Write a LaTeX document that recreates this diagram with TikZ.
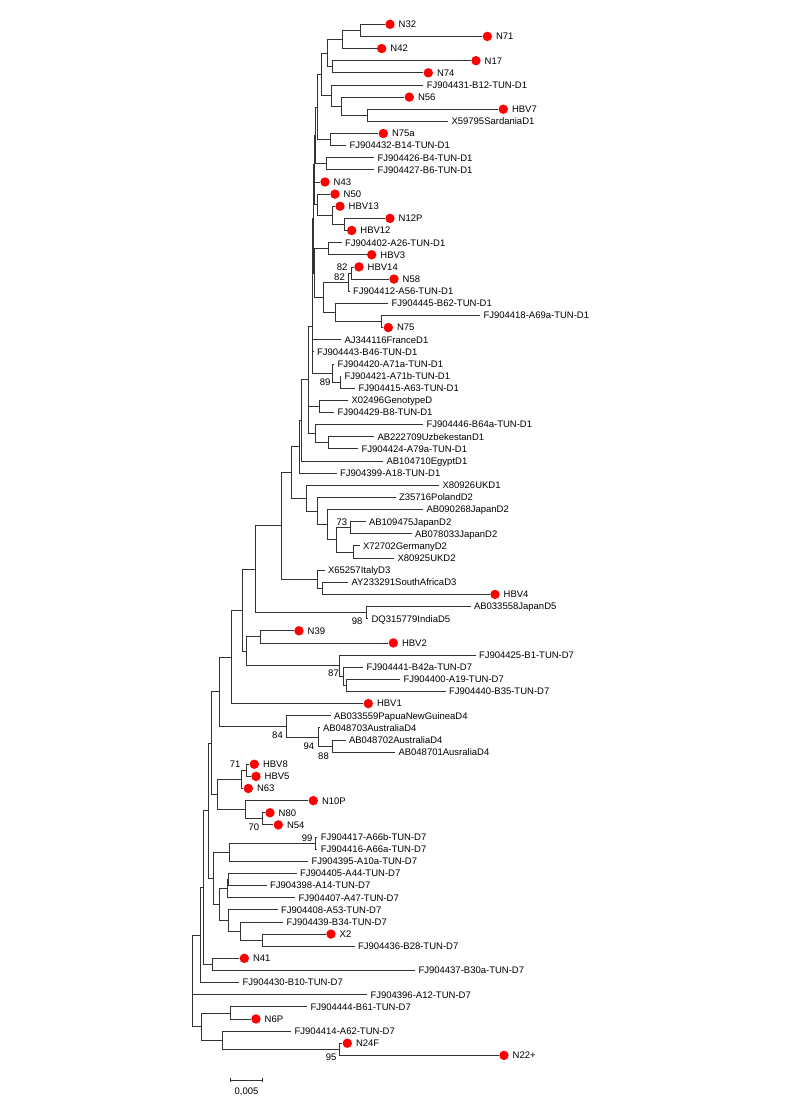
\documentclass[tikz,border=0pt]{standalone}
\usepackage{fontspec}
\setmainfont{Liberation Sans}
\usetikzlibrary{calc}
\tikzset{
  edge/.style={draw=black!80,line width=0.8pt},
  lab/.style={anchor=west,inner sep=0pt,font=\fontsize{9.5}{11}\selectfont,text height=6.8pt,text depth=0pt},
  bs/.style={lab,anchor=east},
  rdot/.style={circle,fill=red,inner sep=0pt,minimum size=9.4pt}
}
\newcommand\lp[3]{\coordinate (L#1) at (#2,{24.3+(#1-1)*12.13});\node[lab] (T#1) at ([xshift=3.3pt]L#1) {#3};}
\newcommand\ld[3]{\coordinate (L#1) at ({#2-5},{24.3+(#1-1)*12.13});\node[rdot] (D#1) at (#2,{24.3+(#1-1)*12.13}) {};\node[lab] (T#1) at ([xshift=8.5pt]D#1.center) {#3};}
\newcommand\mk[4]{\path let \p1=(#3), \p2=(#4) in (#2pt,{(\y1+\y2)/2}) coordinate (#1);}
\newcommand\ed[2]{\foreach \c in {#2}{\draw[edge] (#1) |- (\c);}}
\begin{document}
\begin{tikzpicture}[x=1pt,y=-1pt]
\path[use as bounding box,fill=white] (0,0) rectangle (785,1110);
% leaves
\ld{1}{390}{N32}
\ld{2}{487.3}{N71}
\ld{3}{381.7}{N42}
\ld{4}{476}{N17}
\ld{5}{428.3}{N74}
\lp{6}{423.3}{FJ904431-B12-TUN-D1}
\ld{7}{409.3}{N56}
\ld{8}{503.3}{HBV7}
\lp{9}{448}{X59795SardaniaD1}
\ld{10}{383.3}{N75a}
\lp{11}{346}{FJ904432-B14-TUN-D1}
\lp{12}{374}{FJ904426-B4-TUN-D1}
\lp{13}{374}{FJ904427-B6-TUN-D1}
\ld{14}{325}{N43}
\ld{15}{335}{N50}
\ld{16}{340}{HBV13}
\ld{17}{390}{N12P}
\ld{18}{351.7}{HBV12}
\lp{19}{341.5}{FJ904402-A26-TUN-D1}
\ld{20}{371.7}{HBV3}
\ld{21}{359}{HBV14}
\ld{22}{394}{N58}
\lp{23}{349.5}{FJ904412-A56-TUN-D1}
\lp{24}{388}{FJ904445-B62-TUN-D1}
\lp{25}{480}{FJ904418-A69a-TUN-D1}
\ld{26}{388.3}{N75}
\lp{27}{341}{AJ344116FranceD1}
\lp{28}{313.5}{FJ904443-B46-TUN-D1}
\lp{29}{334}{FJ904420-A71a-TUN-D1}
\lp{30}{341}{FJ904421-A71b-TUN-D1}
\lp{31}{355}{FJ904415-A63-TUN-D1}
\lp{32}{348}{X02496GenotypeD}
\lp{33}{334}{FJ904429-B8-TUN-D1}
\lp{34}{423}{FJ904446-B64a-TUN-D1}
\lp{35}{374}{AB222709UzbekestanD1}
\lp{36}{358}{FJ904424-A79a-TUN-D1}
\lp{37}{383}{AB104710EgyptD1}
\lp{38}{336.5}{FJ904399-A18-TUN-D1}
\lp{39}{439}{X80926UKD1}
\lp{40}{395.5}{Z35716PolandD2}
\lp{41}{423}{AB090268JapanD2}
\lp{42}{365.5}{AB109475JapanD2}
\lp{43}{411.5}{AB078033JapanD2}
\lp{44}{359.5}{X72702GermanyD2}
\lp{45}{394}{X80925UKD2}
\lp{46}{324.5}{X65257ItalyD3}
\lp{47}{348}{AY233291SouthAfricaD3}
\ld{48}{495}{HBV4}
\lp{49}{470.5}{AB033558JapanD5}
\lp{50}{368}{DQ315779IndiaD5}
\ld{51}{299}{N39}
\ld{52}{393.3}{HBV2}
\lp{53}{475.5}{FJ904425-B1-TUN-D7}
\lp{54}{363}{FJ904441-B42a-TUN-D7}
\lp{55}{400}{FJ904400-A19-TUN-D7}
\lp{56}{445.5}{FJ904440-B35-TUN-D7}
\ld{57}{368.3}{HBV1}
\lp{58}{330.5}{AB033559PapuaNewGuineaD4}
\lp{59}{319.5}{AB048703AustraliaD4}
\lp{60}{345.5}{AB048702AustraliaD4}
\lp{61}{395}{AB048701AusraliaD4}
\ld{62}{254.3}{HBV8}
\ld{63}{256}{HBV5}
\ld{64}{248.3}{N63}
\ld{65}{313.3}{N10P}
\ld{66}{270}{N80}
\ld{67}{278.3}{N54}
\lp{68}{317.3}{FJ904417-A66b-TUN-D7}
\lp{69}{317.3}{FJ904416-A66a-TUN-D7}
\lp{70}{308}{FJ904395-A10a-TUN-D7}
\lp{71}{296.5}{FJ904405-A44-TUN-D7}
\lp{72}{266.5}{FJ904398-A14-TUN-D7}
\lp{73}{295}{FJ904407-A47-TUN-D7}
\lp{74}{277.5}{FJ904408-A53-TUN-D7}
\lp{75}{283}{FJ904439-B34-TUN-D7}
\ld{76}{331}{X2}
\lp{77}{354.5}{FJ904436-B28-TUN-D7}
\ld{78}{244.3}{N41}
\lp{79}{415}{FJ904437-B30a-TUN-D7}
\lp{80}{239}{FJ904430-B10-TUN-D7}
\lp{81}{367}{FJ904396-A12-TUN-D7}
\lp{82}{307}{FJ904444-B61-TUN-D7}
\ld{83}{256}{N6P}
\lp{84}{291}{FJ904414-A62-TUN-D7}
\ld{85}{347.3}{N24F}
\ld{86}{504}{N22+}
% internal nodes
\mk{G1}{360}{L1}{L2}
\mk{G2}{342.7}{G1}{L3}
\mk{G2b}{332.3}{L4}{L5}
\mk{G3}{327}{G2}{G2b}
\mk{G4}{367.7}{L8}{L9}
\mk{G5}{341}{L7}{G4}
\mk{G6}{331.7}{L6}{G5}
\mk{G7}{321.7}{G3}{G6}
\mk{G8}{330}{L10}{L11}
\mk{G9}{317.3}{G7}{G8}
\mk{G10}{326.7}{L12}{L13}
\mk{G11}{344.3}{L17}{L18}
\mk{G12}{332.3}{L16}{G11}
\mk{G13}{317.3}{L15}{G12}
\mk{G14}{314.5}{L14}{G13}
\mk{G15}{328.3}{L19}{L20}
\mk{G16}{351.7}{L21}{L22}
\mk{G17}{348.3}{G16}{L23}
\mk{G18}{381}{L25}{L26}
\mk{G19}{335.7}{L24}{G18}
\mk{G20}{323.3}{G17}{G19}
\mk{G21}{314.5}{G15}{G20}
\mk{T1}{315.5}{G9}{G10}
\mk{T2}{314}{T1}{G14}
\mk{T3}{313.3}{T2}{G21}
\mk{T4}{312.7}{T3}{L27}
\mk{G26}{340}{L30}{L31}
\mk{G27}{332.7}{L29}{G26}
\mk{T5}{312}{T4}{G27}
\mk{G30}{319.3}{L32}{L33}
\mk{G31}{328.3}{L35}{L36}
\mk{G32}{315}{L34}{G31}
\mk{T6}{308.3}{T5}{G32}
\mk{T7}{301.7}{T6}{L37}
\mk{T8}{299.3}{T7}{L38}
\mk{D2a}{350}{L42}{L43}
\mk{D2b}{353.3}{L44}{L45}
\mk{D2c}{336.7}{D2a}{D2b}
\mk{D2d}{327.3}{L41}{D2c}
\mk{D2e}{317.3}{L40}{D2d}
\mk{D2f}{306.7}{L39}{D2e}
\mk{T9}{291.7}{T8}{D2f}
\mk{AYH}{322.7}{L47}{L48}
\mk{D3}{317.3}{L46}{AYH}
\mk{T10}{281.7}{T9}{D3}
\mk{D5}{366}{L49}{L50}
\mk{T11}{255}{T10}{D5}
\mk{U1}{260.7}{L51}{L52}
\mk{U2}{346.7}{L55}{L56}
\mk{U3}{343.3}{L54}{U2}
\mk{U4}{339}{L53}{U3}
\mk{U5}{246.7}{U1}{U4}
\mk{U6}{242.7}{T11}{U5}
\mk{U7}{231.7}{U6}{L57}
\mk{D4a}{332.7}{L60}{L61}
\mk{D4b}{318.3}{L59}{D4a}
\mk{D4c}{286.7}{L58}{D4b}
\mk{U8}{219.3}{U7}{D4c}
\mk{V1}{246.7}{L62}{L63}
\mk{V2}{241.3}{V1}{L64}
\mk{V3}{262.3}{L66}{L67}
\mk{V4}{245}{L65}{V3}
\mk{V5}{217.3}{V2}{V4}
\mk{U9}{211.7}{U8}{V5}
\mk{W1}{315.7}{L68}{L69}
\mk{W2}{229}{W1}{L70}
\mk{W3}{228.3}{L71}{L72}
\mk{W4}{227.3}{W3}{L73}
\mk{W5}{262.3}{L76}{L77}
\mk{W6}{240}{L75}{W5}
\mk{W7}{228.3}{L74}{W6}
\mk{W8}{219.3}{W4}{W7}
\mk{W9}{213}{W2}{W8}
\mk{X1}{208.3}{U9}{W9}
\mk{W10}{212.3}{L78}{L79}
\mk{X2n}{203.3}{X1}{W10}
\mk{X3}{200}{X2n}{L80}
\mk{M1}{230.7}{L82}{L83}
\mk{M2}{339.3}{L85}{L86}
\mk{M3}{222.7}{L84}{M2}
\mk{M4}{201.7}{M1}{M3}
\mk{R}{192.3}{X3}{M4}
% edges
\ed{G1}{L1,L2}
\ed{G2}{G1,L3}
\ed{G2b}{L4,L5}
\ed{G3}{G2,G2b}
\ed{G4}{L8,L9}
\ed{G5}{L7,G4}
\ed{G6}{L6,G5}
\ed{G7}{G3,G6}
\ed{G8}{L10,L11}
\ed{G9}{G7,G8}
\ed{G10}{L12,L13}
\ed{G11}{L17,L18}
\ed{G12}{L16,G11}
\ed{G13}{L15,G12}
\ed{G14}{L14,G13}
\ed{G15}{L19,L20}
\ed{G16}{L21,L22}
\ed{G17}{G16,L23}
\ed{G18}{L25,L26}
\ed{G19}{L24,G18}
\ed{G20}{G17,G19}
\ed{G21}{G15,G20}
\ed{T1}{G9,G10}
\ed{T2}{T1,G14}
\ed{T3}{T2,G21}
\ed{T4}{T3,L27}
\ed{G26}{L30,L31}
\ed{G27}{L29,G26}
\ed{T5}{T4,L28,G27}
\ed{G30}{L32,L33}
\ed{G31}{L35,L36}
\ed{G32}{L34,G31}
\ed{T6}{T5,G30,G32}
\ed{T7}{T6,L37}
\ed{T8}{T7,L38}
\ed{D2a}{L42,L43}
\ed{D2b}{L44,L45}
\ed{D2c}{D2a,D2b}
\ed{D2d}{L41,D2c}
\ed{D2e}{L40,D2d}
\ed{D2f}{L39,D2e}
\ed{T9}{T8,D2f}
\ed{AYH}{L47,L48}
\ed{D3}{L46,AYH}
\ed{T10}{T9,D3}
\ed{D5}{L49,L50}
\ed{T11}{T10,D5}
\ed{U1}{L51,L52}
\ed{U2}{L55,L56}
\ed{U3}{L54,U2}
\ed{U4}{L53,U3}
\ed{U5}{U1,U4}
\ed{U6}{T11,U5}
\ed{U7}{U6,L57}
\ed{D4a}{L60,L61}
\ed{D4b}{L59,D4a}
\ed{D4c}{L58,D4b}
\ed{U8}{U7,D4c}
\ed{V1}{L62,L63}
\ed{V2}{V1,L64}
\ed{V3}{L66,L67}
\ed{V4}{L65,V3}
\ed{V5}{V2,V4}
\ed{U9}{U8,V5}
\ed{W1}{L68,L69}
\ed{W2}{W1,L70}
\ed{W3}{L71,L72}
\ed{W4}{W3,L73}
\ed{W5}{L76,L77}
\ed{W6}{L75,W5}
\ed{W7}{L74,W6}
\ed{W8}{W4,W7}
\ed{W9}{W2,W8}
\ed{X1}{U9,W9}
\ed{W10}{L78,L79}
\ed{X2n}{X1,W10}
\ed{X3}{X2n,L80}
\ed{M1}{L82,L83}
\ed{M2}{L85,L86}
\ed{M3}{L84,M2}
\ed{M4}{M1,M3}
\ed{R}{X3,L81,M4}
% bootstrap values
\node[bs] (b1) at (347.7,267.3) {82};
\node[bs] (b2) at (345,276.7) {82};
\node[bs] (b3) at (330.7,382.3) {89};
\node[bs] (b4) at (347.3,521.7) {73};
\node[bs] (b5) at (362.7,621) {98};
\node[bs] (b6) at (339,673) {87};
\node[bs] (b7) at (283,734.7) {84};
\node[bs] (b8) at (314.3,746) {94};
\node[bs] (b9) at (329,756) {88};
\node[bs] (b10) at (240.7,764.3) {71};
\node[bs] (b11) at (259.3,826.7) {70};
\node[bs] (b12) at (312.7,837.7) {99};
\node[bs] (b13) at (336.7,1057.3) {95};
% scale bar
\coordinate (sa) at (230.7,1080);
\coordinate (sb) at (262.3,1080);
\draw[edge] (sa) -- (sb);
\draw[edge] ([yshift=2.4pt]sa) -- ([yshift=-2.4pt]sa);
\draw[edge] ([yshift=2.4pt]sb) -- ([yshift=-2.4pt]sb);
\node[lab,anchor=center] (sl) at (246.5,1091) {0,005};
\end{tikzpicture}
\end{document}
